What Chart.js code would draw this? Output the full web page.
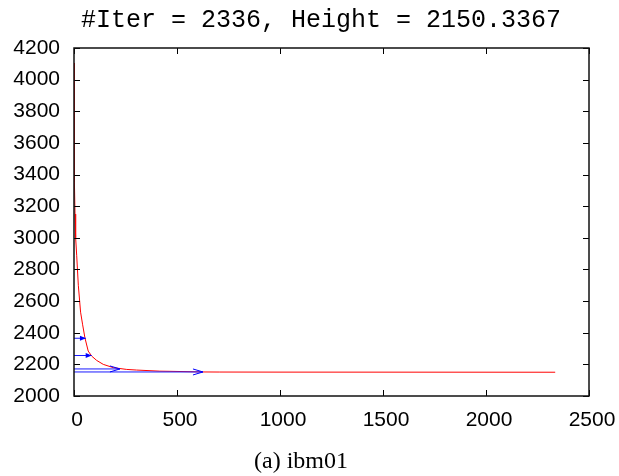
<!DOCTYPE html>
<html>
<head>
<meta charset="utf-8">
<script src="https://cdn.jsdelivr.net/npm/chart.js@4/dist/chart.umd.min.js"></script>
<style>
  html, body { margin: 0; padding: 0; background: #fff; }
  #wrap { width: 619px; height: 476px; }
</style>
</head>
<body>
<div id="wrap"><canvas id="chart" width="619" height="476"></canvas></div>
<script>
// height of the placement per iteration (red trace)
const iterations = [0, 1, 2, 3, 5, 8, 13, 21, 32, 42, 53, 69, 86, 110, 142, 191, 256, 304, 417, 466, 626, 708, 1000, 1500, 2000, 2336];
const heights = [4105, 3800, 3550, 3350, 3150, 3000, 2890, 2700, 2530, 2450, 2368, 2284, 2252, 2225, 2200, 2179, 2168, 2164, 2157, 2156, 2152, 2151.5, 2151, 2150.8, 2150.5, 2150.3];

// blue horizontal arrows: from x = 0 to arrowEnds at arrowHeights
const arrowHeights = [2365, 2256, 2171, 2152];
const arrowEnds = [58, 86, 223, 626];
const arrowHeads = ['small', 'small', 'vee', 'vee'];

const xTicks = [0, 500, 1000, 1500, 2000, 2500];
const yTicks = [2000, 2200, 2400, 2600, 2800, 3000, 3200, 3400, 3600, 3800, 4000, 4200];

const titleText = '#Iter = 2336, Height = 2150.3367';
const captionText = '(a) ibm01';

const TICK_LEN = 6;

const arrowDatasets = arrowHeights.map((h, i) => ({
  label: 'arrow' + i,
  data: [{ x: 0, y: h }, { x: arrowEnds[i], y: h }],
  borderColor: '#1a1aff',
  borderWidth: 1,
  pointRadius: 0,
  isArrow: true,
  headStyle: arrowHeads[i],
}));

// frame + inward mirrored ticks, gnuplot style
const framePlugin = {
  id: 'frame',
  afterDraw(chart) {
    const { ctx, chartArea: a, scales } = chart;
    ctx.save();
    ctx.strokeStyle = '#000';
    ctx.lineWidth = 1;
    scales.x.ticks.forEach(t => {
      const px = Math.round(scales.x.getPixelForValue(t.value)) + 0.5;
      ctx.beginPath();
      ctx.moveTo(px, a.bottom); ctx.lineTo(px, a.bottom - TICK_LEN);
      ctx.moveTo(px, a.top); ctx.lineTo(px, a.top + TICK_LEN);
      ctx.stroke();
    });
    scales.y.ticks.forEach(t => {
      const py = Math.round(scales.y.getPixelForValue(t.value)) + 0.5;
      ctx.beginPath();
      ctx.moveTo(a.left, py); ctx.lineTo(a.left + TICK_LEN, py);
      ctx.moveTo(a.right, py); ctx.lineTo(a.right - TICK_LEN, py);
      ctx.stroke();
    });
    ctx.lineWidth = 1.5;
    ctx.strokeStyle = '#111';
    ctx.strokeRect(a.left, a.top, a.right - a.left, a.bottom - a.top);

    // title and caption, placed like the gnuplot output
    ctx.fillStyle = '#000';
    ctx.textAlign = 'center';
    ctx.textBaseline = 'alphabetic';
    ctx.font = '25px "Liberation Mono", "Courier New", monospace';
    ctx.fillText(titleText, 321, 27);
    ctx.font = '24px "Liberation Serif", "Times New Roman", serif';
    ctx.fillText(captionText, 301, 468);
    ctx.restore();
  },
};

const arrowPlugin = {
  id: 'arrowHeads',
  afterDatasetsDraw(chart) {
    const ctx = chart.ctx;
    chart.data.datasets.forEach((ds, i) => {
      if (!ds.isArrow) return;
      const pts = chart.getDatasetMeta(i).data;
      const end = pts[pts.length - 1];
      ctx.save();
      ctx.strokeStyle = '#0000ff';
      ctx.fillStyle = '#0000ff';
      ctx.lineWidth = 1;
      if (ds.headStyle === 'small') {
        ctx.beginPath();
        ctx.moveTo(end.x, end.y);
        ctx.lineTo(end.x - 6, end.y - 2.5);
        ctx.lineTo(end.x - 6, end.y + 2.5);
        ctx.closePath();
        ctx.fill();
      } else {
        ctx.beginPath();
        ctx.moveTo(end.x - 10, end.y - 3);
        ctx.lineTo(end.x, end.y);
        ctx.lineTo(end.x - 10, end.y + 3);
        ctx.stroke();
      }
      ctx.restore();
    });
  },
};

new Chart(document.getElementById('chart'), {
  type: 'line',
  data: {
    datasets: [
      ...arrowDatasets,
      {
        label: 'height',
        data: iterations.map((it, i) => ({ x: it, y: heights[i] })),
        borderColor: '#ff0000',
        borderWidth: 1,
        pointRadius: 0,
        tension: 0,
      },
    ],
  },
  options: {
    responsive: false,
    animation: false,
    layout: { padding: { left: 0, right: 30, top: 48, bottom: 34 } },
    plugins: {
      legend: { display: false },
      tooltip: { enabled: false },
    },
    scales: {
      x: {
        type: 'linear',
        min: 0,
        max: 2500,
        afterBuildTicks: s => { s.ticks = xTicks.map(v => ({ value: v })); },
        afterFit: s => { s.height = 46; s.paddingLeft = 0; s.paddingRight = 0; },
        grid: { display: false, drawTicks: false },
        border: { display: false },
        ticks: {
          autoSkip: false,
          maxRotation: 0,
          padding: 12,
          labelOffset: 3,
          color: '#000',
          font: { family: '"Liberation Sans", Arial, sans-serif', size: 21 },
          callback: v => String(v),
        },
      },
      y: {
        type: 'linear',
        min: 2000,
        max: 4200,
        afterBuildTicks: s => { s.ticks = yTicks.map(v => ({ value: v })); },
        afterFit: s => { s.width = 74; s.paddingTop = 0; s.paddingBottom = 0; },
        grid: { display: false, drawTicks: false },
        border: { display: false },
        ticks: {
          autoSkip: false,
          padding: 14,
          color: '#000',
          font: { family: '"Liberation Sans", Arial, sans-serif', size: 21 },
          callback: v => String(v),
        },
      },
    },
  },
  plugins: [framePlugin, arrowPlugin],
});
</script>
</body>
</html>
